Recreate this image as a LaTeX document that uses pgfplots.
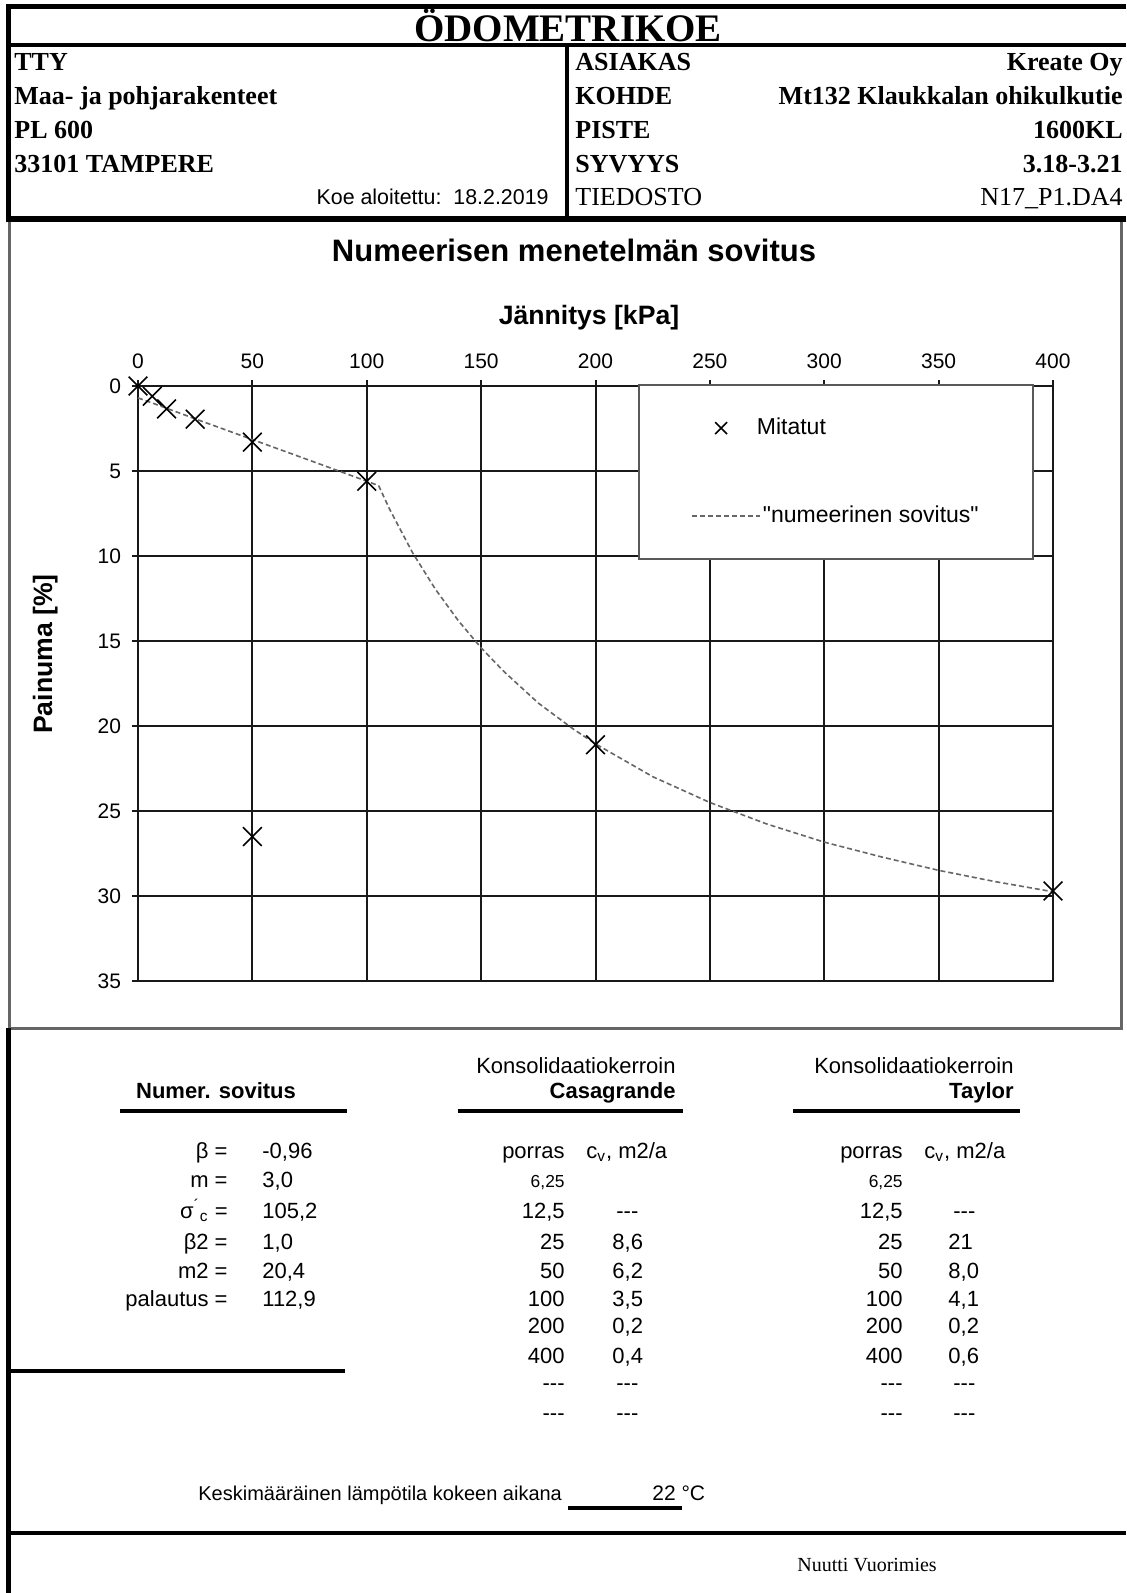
\documentclass[border=0pt]{standalone}
\usepackage{pgfplots}
\pgfplotsset{compat=1.18}
\usepackage{fontspec}
\setmainfont{Liberation Sans}
\newfontfamily\tmsfont{Liberation Serif}
% same face without TeX ligatures, so that " stays a straight quote
\newfontfamily\legfont{Liberation Sans}
\newcommand{\fs}[1]{\fontsize{#1}{#1}\selectfont}

% legend samples: a single cross, and a short dashed stroke
\pgfplotsset{
  cross legend/.style={legend image code/.code={\draw[##1, mark size=4.2pt] plot coordinates {(14.5pt,0pt)};}},
  dash legend/.style={legend image code/.code={\draw[##1] (0pt,0pt) -- (34pt,0pt);}},
}

\begin{document}
\begin{tikzpicture}
% page: 1126 x 1593 units of 0.5pt
\path[use as bounding box, fill=white] (0pt,0pt) rectangle (563pt,-796.5pt);

\begin{scope}[x=0.5pt,y=-0.5pt, every node/.style={inner sep=0pt}]
% ---------- header frame ----------
\draw[line width=2.5pt] (1126,7) -- (8,7) -- (8,222);
\draw[line width=2pt] (8,45) -- (1126,45);
\draw[line width=2pt] (567,45) -- (567,219);
\draw[line width=3pt] (8,219) -- (1126,219);
% ---------- chart panel ----------
\draw[black!60, line width=1.5pt] (9,222) -- (9,1028) -- (1121,1028) -- (1121,222);
% ---------- lower frame ----------
\draw[line width=2.5pt] (8,1028) -- (8,1593);
\draw[line width=2pt] (8,1533) -- (1126,1533);

% ---------- header text ----------
\node[anchor=base, font=\tmsfont\bfseries\fs{19.5}] at (568,42) {ÖDOMETRIKOE};
\begin{scope}[every node/.append style={font=\tmsfont\bfseries\fs{13}}]
\node[anchor=base west] at (14,71) {TTY};
\node[anchor=base west] at (14,105) {Maa- ja pohjarakenteet};
\node[anchor=base west] at (14,139) {PL 600};
\node[anchor=base west] at (14,173) {33101 TAMPERE};
\node[anchor=base west] at (575,71) {ASIAKAS};
\node[anchor=base west] at (575,105) {KOHDE};
\node[anchor=base west] at (575,139) {PISTE};
\node[anchor=base west] at (575,173) {SYVYYS};
\node[anchor=base east] at (1123,71) {Kreate Oy};
\node[anchor=base east] at (1123,105) {Mt132 Klaukkalan ohikulkutie};
\node[anchor=base east] at (1123,139) {1600KL};
\node[anchor=base east] at (1123,173) {3.18-3.21};
\end{scope}
\node[anchor=base west, font=\tmsfont\fs{13}] at (575,206) {TIEDOSTO};
\node[anchor=base east, font=\tmsfont\fs{13}] at (1123,206) {N17\_P1.DA4};
\node[anchor=base east, font=\fs{10.7}] at (549,205) {Koe aloitettu:\ \ 18.2.2019};

% ---------- chart titles ----------
\node[anchor=base, font=\bfseries\fs{15.5}] at (574,262) {Numeerisen menetelmän sovitus};
\node[anchor=base, font=\bfseries\fs{13.3}] at (589,325) {Jännitys [kPa]};
\node[anchor=base, rotate=90, font=\bfseries\fs{13.3}] at (52,654) {Painuma [\%]};

% ---------- result tables ----------
\begin{scope}[every node/.append style={font=\fs{11}}]
% headings
\node[anchor=base, font=\bfseries\fs{11}] at (216,1098) {Numer. sovitus};
\node[anchor=base east] at (676,1073) {Konsolidaatiokerroin};
\node[anchor=base east, font=\bfseries\fs{11}] at (676,1098) {Casagrande};
\node[anchor=base east] at (1014,1073) {Konsolidaatiokerroin};
\node[anchor=base east, font=\bfseries\fs{11}] at (1014,1098) {Taylor};
% fitted parameters
\node[anchor=base east] at (228,1158) {β =};
\node[anchor=base east] at (228,1187) {m =};
\node[anchor=base east] at (228,1218) {σ\textsuperscript{´}\textsubscript{c} =};
\node[anchor=base east] at (228,1249) {β2 =};
\node[anchor=base east] at (228,1278) {m2 =};
\node[anchor=base east] at (228,1306) {palautus =};
\node[anchor=base west] at (262,1158) {-0,96};
\node[anchor=base west] at (262,1187) {3,0};
\node[anchor=base west] at (262,1218) {105,2};
\node[anchor=base west] at (262,1249) {1,0};
\node[anchor=base west] at (262,1278) {20,4};
\node[anchor=base west] at (262,1306) {112,9};
% Casagrande
\node[anchor=base east] at (565,1158) {porras};
\node[anchor=base west] at (586,1158) {c\textsubscript{v}, m2/a};
\node[anchor=base east, font=\fs{8.7}] at (565,1187) {6,25};
\node[anchor=base east] at (565,1218) {12,5};
\node[anchor=base east] at (565,1249) {25};
\node[anchor=base east] at (565,1278) {50};
\node[anchor=base east] at (565,1306) {100};
\node[anchor=base east] at (565,1333) {200};
\node[anchor=base east] at (565,1363) {400};
\node[anchor=base east] at (565,1390) {-{}-{}-};
\node[anchor=base east] at (565,1420) {-{}-{}-};
\node[anchor=base west] at (616,1218) {-{}-{}-};
\node[anchor=base west] at (612,1249) {8,6};
\node[anchor=base west] at (612,1278) {6,2};
\node[anchor=base west] at (612,1306) {3,5};
\node[anchor=base west] at (612,1333) {0,2};
\node[anchor=base west] at (612,1363) {0,4};
\node[anchor=base west] at (616,1390) {-{}-{}-};
\node[anchor=base west] at (616,1420) {-{}-{}-};
% Taylor
\node[anchor=base east] at (903,1158) {porras};
\node[anchor=base west] at (924,1158) {c\textsubscript{v}, m2/a};
\node[anchor=base east, font=\fs{8.7}] at (903,1187) {6,25};
\node[anchor=base east] at (903,1218) {12,5};
\node[anchor=base east] at (903,1249) {25};
\node[anchor=base east] at (903,1278) {50};
\node[anchor=base east] at (903,1306) {100};
\node[anchor=base east] at (903,1333) {200};
\node[anchor=base east] at (903,1363) {400};
\node[anchor=base east] at (903,1390) {-{}-{}-};
\node[anchor=base east] at (903,1420) {-{}-{}-};
\node[anchor=base west] at (953,1218) {-{}-{}-};
\node[anchor=base west] at (948,1249) {21};
\node[anchor=base west] at (948,1278) {8,0};
\node[anchor=base west] at (948,1306) {4,1};
\node[anchor=base west] at (948,1333) {0,2};
\node[anchor=base west] at (948,1363) {0,6};
\node[anchor=base west] at (953,1390) {-{}-{}-};
\node[anchor=base west] at (953,1420) {-{}-{}-};
\end{scope}
% underlines
\draw[line width=1.7pt] (120,1111) -- (347,1111);
\draw[line width=1.7pt] (458,1111) -- (683,1111);
\draw[line width=1.7pt] (793,1111) -- (1020,1111);
\draw[line width=1.7pt] (10,1371) -- (345,1371);

% ---------- temperature and footer ----------
\node[anchor=base west, font=\fs{10}] at (198,1500) {Keskimääräinen lämpötila kokeen aikana};
\draw[line width=1.6pt] (568,1508) -- (682,1508);
\node[anchor=base west, font=\fs{10.5}] at (652,1500) {22 °C};
\node[anchor=base west, font=\tmsfont\fs{10}] at (797,1571) {Nuutti Vuorimies};
\end{scope}

% ---------- settlement curve ----------
\begin{axis}[
  at={(69pt,-490.5pt)}, anchor=south west,
  scale only axis, width=457.5pt, height=297.5pt,
  xmin=0, xmax=400, ymin=0, ymax=35, y dir=reverse,
  xtick={0,50,...,400}, ytick={0,5,...,35},
  xtick pos=right, xticklabel pos=right, ytick pos=left,
  tick align=outside, major tick length=3pt,
  grid=major,
  major grid style={black!90, line width=1pt},
  axis line style={black!90, line width=1pt},
  tick style={black!90, line width=1pt},
  tick label style={font=\fs{10.5}, /pgf/number format/assume math mode=true},
  xticklabel style={yshift=2pt},
  yticklabel style={xshift=-2pt},
  clip=false,
  legend cell align=left,
  legend style={at={(axis cs:218.7,-0.1)}, anchor=north west,
    draw=black!65, line width=1pt, fill=white,
    inner xsep=26pt, inner ysep=15.5pt, row sep=32pt,
    font=\legfont\fs{11.5}, nodes={inner sep=1pt}},
]
\addplot[only marks, mark=x, mark size=6.6pt, black, line width=0.8pt, cross legend]
  table {
  x     y
  0     0
  6.25  0.6
  12.5  1.35
  25    1.95
  50    3.3
  100   5.6
  200   21.1
  400   29.7
  50    26.5
  };
\addplot[black!60, line width=0.8pt, dash pattern=on 2.5pt off 1.5pt, dash legend]
  table {
  x      y
  0      0.70
  6.25   1.00
  12.5   1.31
  25     1.93
  50     3.15
  75     4.37
  100    5.60
  105.2  5.86
  110    7.25
  120    9.80
  130    11.95
  140    13.80
  150    15.40
  160    16.80
  175    18.65
  190    20.15
  200    21.05
  225    22.98
  250    24.50
  275    25.77
  300    26.83
  325    27.70
  350    28.49
  375    29.16
  400    29.75
  };
\legend{\hspace*{-3pt}Mitatut, "numeerinen sovitus"}
\end{axis}
\end{tikzpicture}
\end{document}
